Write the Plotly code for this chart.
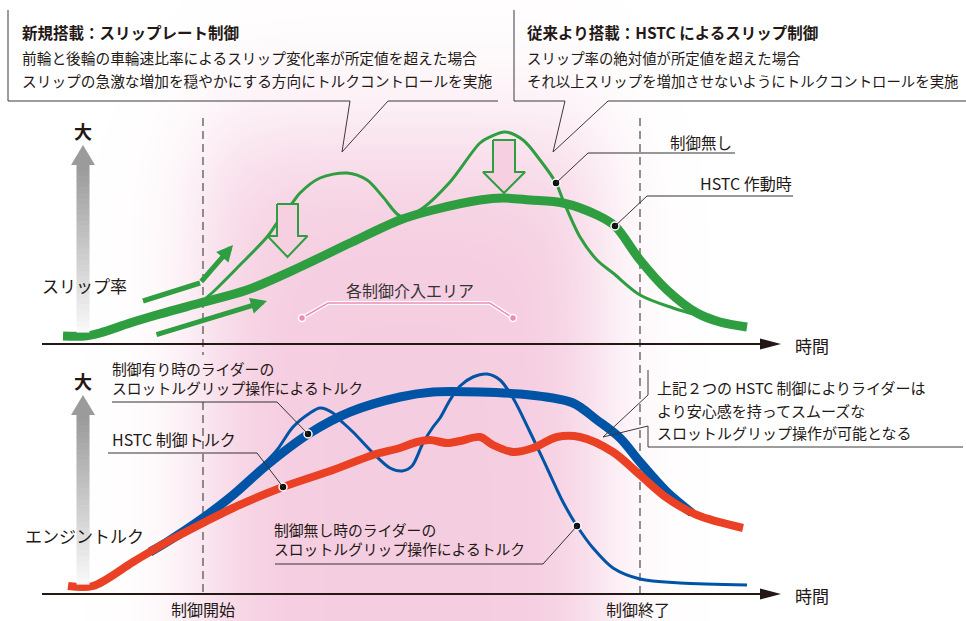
import numpy as np
import plotly.graph_objects as go

W, H = 966, 621

# ---------------- data (time in diagram units, values = height above the time axis) ----------------
# Upper panel: slip rate
t_slip_hstc = [63, 85, 100, 130, 160, 200, 247, 300, 350, 400, 433, 480, 503, 530, 563, 597, 615, 640, 667, 697, 720, 747]
slip_hstc   = [8, 8, 11, 21, 30, 41, 54, 77, 101, 124, 134, 144, 146, 144, 141, 129, 118, 84, 54, 31, 22, 17]

t_slip_nc = [200, 213, 240, 267, 277, 293, 300, 320, 347, 367, 383, 400, 412, 423, 450, 480, 490, 505, 523, 540, 556, 563, 580, 597, 613, 640, 673, 697]
slip_nc   = [41, 52, 79, 107, 121, 142, 151, 166, 171, 164, 147, 128, 130, 136, 162, 201, 207, 212, 204, 184, 161, 144, 107, 84, 71, 49, 36, 29]

# Lower panel: engine torque
t_tq_hstc = [68, 93, 133, 167, 203, 233, 283, 333, 373, 400, 417, 430, 447, 460, 480, 493, 513, 533, 557, 580, 613, 640, 667, 697, 743]
tq_hstc   = [8, 8, 32, 52, 71, 86, 107, 124, 139, 146, 152, 154, 151, 153, 157, 149, 142, 146, 157, 157, 142, 119, 96, 79, 66]

t_tq_ctrl = [150, 167, 203, 233, 267, 310, 350, 400, 433, 480, 530, 573, 597, 620, 640, 667, 692]
tq_ctrl   = [42, 52, 76, 99, 129, 161, 182, 197, 202, 202, 199, 191, 174, 156, 132, 102, 81]

t_tq_nc = [203, 233, 260, 277, 293, 310, 320, 333, 340, 353, 373, 390, 402, 412, 423, 433, 440, 450, 460, 473, 487, 500, 513, 530, 547, 563, 577, 593, 613, 640, 680, 747]
tq_nc   = [76, 99, 126, 144, 167, 181, 186, 181, 174, 162, 141, 126, 123, 128, 151, 167, 176, 194, 208, 217, 220, 214, 196, 162, 126, 92, 68, 46, 26, 15, 11, 9]

t_ctrl_start, t_ctrl_end = 203, 640

# marker points on curves (time, value)
dot_slip_nc = (556, 161)
dot_slip_hstc = (615, 118)
dot_tq_ctrl = (308, 160)
dot_tq_hstc = (283, 107)
dot_tq_nc = (577, 68)

box1_lines = ["<b>新規搭載：スリップレート制御</b>",
              "前輪と後輪の車輪速比率によるスリップ変化率が所定値を超えた場合",
              "スリップの急激な増加を穏やかにする方向にトルクコントロールを実施"]
box2_lines = ["<b>従来より搭載：HSTC によるスリップ制御</b>",
              "スリップ率の絶対値が所定値を超えた場合",
              "それ以上スリップを増加させないようにトルクコントロールを実施"]
box3_lines = ["上記２つの HSTC 制御によりライダーは",
              "より安心感を持ってスムーズな",
              "スロットルグリップ操作が可能となる"]

# ---------------- styles ----------------
GREEN = "#2f9e41"
BLUE = "#0054a6"
RED = "#ea4125"
TXT = "#231815"
PINK = "#f5cde0"
FONT = "Noto Sans CJK JP"

TOP0, BOT0 = 344, 594   # pixel rows of the time axes
def py_top(v):
    return TOP0 - v
def py_bot(v):
    return BOT0 - v

fig = go.Figure()

# background pink gradient (decoration)
gx = np.arange(0, W + 8, 8)
gy = np.arange(0, H + 8, 8)
hx = 1 / (1 + np.exp(-(gx - 205) / 26.0)) * 1 / (1 + np.exp((gx - 600) / 24.0))
vy = 1 / (1 + np.exp(-(gy - 135) / 40.0))
Z = np.outer(vy, hx)
fig.add_trace(go.Heatmap(x=gx, y=gy, z=Z, colorscale=[[0, "#ffffff"], [1, PINK]],
                         zmin=0, zmax=1, showscale=False, zsmooth="best", hoverinfo="skip",
                         xaxis="x", yaxis="y"))

# dashed control start / end lines (background layer)
for seg in [(t_ctrl_start, 118, 355), (t_ctrl_start, 402, 597), (t_ctrl_end, 118, 597)]:
    fig.add_trace(go.Scatter(x=[seg[0], seg[0]], y=[seg[1], seg[2]], mode="lines",
                             line=dict(color="#4a4a4a", width=1.2, dash="8px,5px"),
                             hoverinfo="skip", xaxis="x", yaxis="y"))

# pink "各制御介入エリア" bracket
bx = [302, 328, 490, 513]
by = [318, 303, 303, 318]
fig.add_trace(go.Scatter(x=bx, y=by, mode="lines", line=dict(color="white", width=4),
                         hoverinfo="skip", xaxis="x", yaxis="y"))
fig.add_trace(go.Scatter(x=bx, y=by, mode="lines", line=dict(color="#ea8db5", width=1.5),
                         hoverinfo="skip", xaxis="x", yaxis="y"))
fig.add_trace(go.Scatter(x=[bx[0], bx[-1]], y=[by[0], by[-1]], mode="markers",
                         marker=dict(color="#ea8db5", size=7, line=dict(color="white", width=1.5)),
                         hoverinfo="skip", xaxis="x", yaxis="y"))

# ---------- upper panel ----------
fig.add_trace(go.Scatter(x=t_slip_nc, y=slip_nc, mode="lines", line=dict(color=GREEN, width=3, shape="spline", smoothing=0.9),
                         hoverinfo="skip", xaxis="x", yaxis="y2"))
fig.add_trace(go.Scatter(x=t_slip_hstc, y=slip_hstc, mode="lines", line=dict(color=GREEN, width=9, shape="spline", smoothing=0.9),
                         hoverinfo="skip", xaxis="x", yaxis="y2"))

# hollow down arrows
def hollow(cx, top, shoulder, tip, sw, hw):
    xs = [cx - sw, cx + sw, cx + sw, cx + hw, cx, cx - hw, cx - sw, cx - sw]
    ys = [top, top, shoulder, shoulder, tip, shoulder, shoulder, top]
    return xs, ys
for a in [(287.5, 140, 108, 87, 10.5, 20), (504, 204, 172, 151, 11, 21)]:
    xs, ys = hollow(*a)
    fig.add_trace(go.Scatter(x=xs, y=ys, mode="lines", fill="toself", fillcolor="#f6cfe1",
                             line=dict(color=GREEN, width=2), hoverinfo="skip", xaxis="x", yaxis="y2"))

# green polyline for upper solid arrow
fig.add_trace(go.Scatter(x=[143, 200], y=[43, 61], mode="lines", line=dict(color=GREEN, width=5),
                         hoverinfo="skip", xaxis="x", yaxis="y2"))

fig.add_trace(go.Scatter(x=[dot_slip_nc[0], dot_slip_hstc[0]], y=[dot_slip_nc[1], dot_slip_hstc[1]], mode="markers",
                         marker=dict(color="#111111", size=8, line=dict(color="white", width=1.5)),
                         hoverinfo="skip", xaxis="x", yaxis="y2"))

# ---------- lower panel ----------
fig.add_trace(go.Scatter(x=t_tq_ctrl, y=tq_ctrl, mode="lines", line=dict(color=BLUE, width=9, shape="spline", smoothing=0.9),
                         hoverinfo="skip", xaxis="x", yaxis="y3"))
fig.add_trace(go.Scatter(x=t_tq_nc, y=tq_nc, mode="lines", line=dict(color=BLUE, width=3, shape="spline", smoothing=0.9),
                         hoverinfo="skip", xaxis="x", yaxis="y3"))
fig.add_trace(go.Scatter(x=t_tq_hstc, y=tq_hstc, mode="lines", line=dict(color=RED, width=8, shape="spline", smoothing=0.9),
                         hoverinfo="skip", xaxis="x", yaxis="y3"))
fig.add_trace(go.Scatter(x=[dot_tq_ctrl[0], dot_tq_hstc[0], dot_tq_nc[0]], y=[dot_tq_ctrl[1], dot_tq_hstc[1], dot_tq_nc[1]],
                         mode="markers", marker=dict(color="#111111", size=8, line=dict(color="white", width=1.5)),
                         hoverinfo="skip", xaxis="x", yaxis="y3"))

shapes = []
annotations = []

# gray vertical gradient arrows
def gray_arrow(cx, tip, base, bottom):
    n = 30
    for i in range(n):
        y0 = base + (bottom - base) * i / n
        y1 = base + (bottom - base) * (i + 1) / n
        f = i / (n - 1)
        c = int(155 + (248 - 155) * f)
        shapes.append(dict(type="rect", xref="x", yref="y", x0=cx - 6.5, x1=cx + 6.5, y0=y0, y1=y1 + 0.6,
                           line=dict(width=0), fillcolor=f"rgb({c},{c},{c})", layer="above"))
    shapes.append(dict(type="path", xref="x", yref="y",
                       path=f"M {cx-12},{base} L {cx},{tip} L {cx+12},{base} Z",
                       line=dict(width=0), fillcolor="rgb(155,155,155)", layer="above"))
gray_arrow(83, 145, 165, 332)
gray_arrow(83, 395, 415, 584)

# time axes
for yy in (TOP0, BOT0):
    shapes.append(dict(type="line", xref="x", yref="y", x0=42, x1=764, y0=yy, y1=yy,
                       line=dict(color=TXT, width=2)))
    shapes.append(dict(type="path", xref="x", yref="y", path=f"M 760,{yy-5.5} L 781,{yy} L 760,{yy+5.5} Z",
                       line=dict(width=0), fillcolor=TXT))

# callout boxes
box_line = dict(color="#3a3a3a", width=1)
shapes.append(dict(type="path", xref="x", yref="y", line=box_line,
                   path="M 8,10 L 8,101 L 350,101 L 342,152 L 388,101 L 498,101"))
shapes.append(dict(type="path", xref="x", yref="y", line=box_line,
                   path="M 514,10 L 514,101 L 565,101 L 553,152 L 608,101 L 966,101"))
shapes.append(dict(type="path", xref="x", yref="y", line=box_line,
                   path="M 648,370 L 648,395 L 603,437 L 648,426 L 648,447 L 963,447"))

# leader lines for labels
lead = dict(color="#333333", width=1)
for pts in [[(735, 153), (588, 153), (dot_slip_nc[0], py_top(dot_slip_nc[1]))],
            [(793, 196), (647, 196), (dot_slip_hstc[0], py_top(dot_slip_hstc[1]))],
            [(112, 402), (277, 402), (dot_tq_ctrl[0], py_bot(dot_tq_ctrl[1]))],
            [(108, 453), (257, 453), (dot_tq_hstc[0], py_bot(dot_tq_hstc[1]))],
            [(275, 564), (543, 564), (dot_tq_nc[0], py_bot(dot_tq_nc[1]))]]:
    p = "M " + " L ".join(f"{a},{b}" for a, b in pts)
    shapes.append(dict(type="path", xref="x", yref="y", path=p, line=lead))

# green solid arrows (annotations with arrowheads)
for (x0, v0, x1, v1) in [(155, 9, 267, 43), (200, 61, 233, 99)]:
    annotations.append(dict(x=x1, y=v1, ax=x0, ay=v0, xref="x", yref="y2", axref="x", ayref="y2",
                            text="", showarrow=True, arrowhead=2, arrowsize=0.65, arrowwidth=5,
                            arrowcolor=GREEN, standoff=0))

def txt(x, y, s, size=15, anchor="left", color=TXT):
    annotations.append(dict(x=x, y=y, xref="x", yref="y", text=s, showarrow=False,
                            xanchor=anchor, yanchor="middle", align=anchor if anchor != "center" else "center",
                            font=dict(family=FONT, size=size, color=color)))

for i, s in enumerate(box1_lines):
    txt(20, [32, 57, 80][i], s, size=15.5 if i == 0 else 14.7)
for i, s in enumerate(box2_lines):
    txt(525, [32, 57, 80][i], s, size=15.5 if i == 0 else 14.4)
for i, s in enumerate(box3_lines):
    txt(655, [387, 410, 432][i], s, size=15)

txt(83, 131, "<b>大</b>", size=18, anchor="center")
txt(83, 381, "<b>大</b>", size=18, anchor="center")
txt(40, 285, "スリップ率", size=17)
txt(23, 535, "エンジントルク", size=17)
txt(410, 290, "各制御介入エリア", size=16, anchor="center", color="#333333")
txt(734, 142, "制御無し", size=15.5, anchor="right")
txt(794, 183, "HSTC 作動時", size=16, anchor="right")
txt(110, 378, "制御有り時のライダーの<br>スロットルグリップ操作によるトルク", size=14.8)
txt(110, 439, "HSTC 制御トルク", size=16)
txt(272, 539, "制御無し時のライダーの<br>スロットルグリップ操作によるトルク", size=14.8)
txt(793, 345, "時間", size=17)
txt(793, 595, "時間", size=17)
txt(t_ctrl_start, 609, "制御開始", size=16, anchor="center")
txt(t_ctrl_end - 2, 609, "制御終了", size=16, anchor="center")

fig.update_layout(
    width=W, height=H, margin=dict(l=0, r=0, t=0, b=0),
    paper_bgcolor="white", plot_bgcolor="rgba(0,0,0,0)", showlegend=False,
    xaxis=dict(range=[0, W], visible=False, fixedrange=True),
    yaxis=dict(range=[H, 0], domain=[0, 1], visible=False, fixedrange=True),
    yaxis2=dict(range=[0, 240], domain=[1 - 344 / H, 1 - 104 / H], visible=False, anchor="x", fixedrange=True),
    yaxis3=dict(range=[0, 240], domain=[1 - 594 / H, 1 - 354 / H], visible=False, anchor="x", fixedrange=True),
    shapes=shapes, annotations=annotations,
)

fig.write_html("out.html", config=dict(displayModeBar=False),
               post_script="document.body.style.margin='0';document.body.style.overflow='hidden';")
